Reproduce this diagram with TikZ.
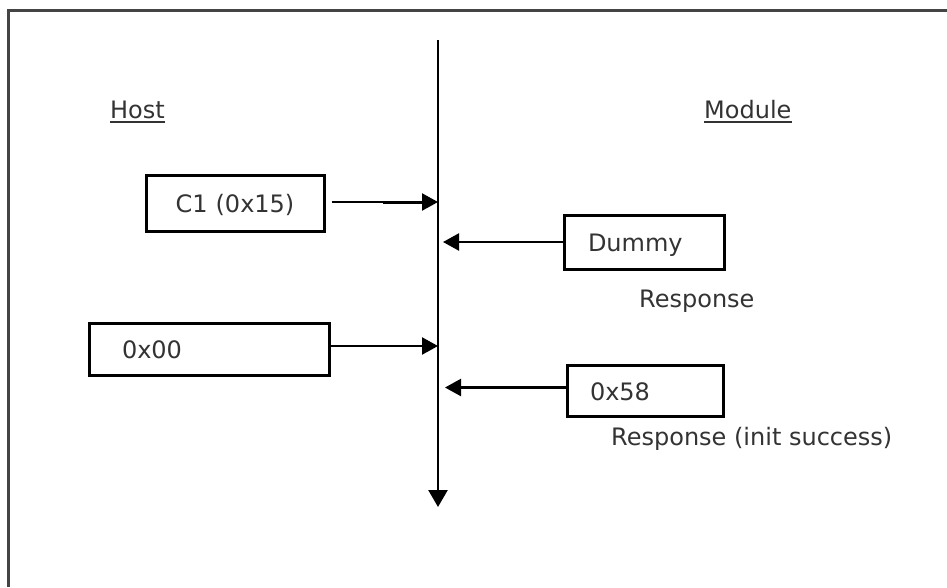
\documentclass[tikz,border=0pt]{standalone}
\usepackage{fontspec}
\setmainfont{DejaVu Sans}
\usetikzlibrary{arrows.meta}
\definecolor{ink}{HTML}{333333}
\definecolor{frame}{HTML}{444444}
\begin{document}
\begin{tikzpicture}[x=1pt,y=-1pt,
  every node/.style={font=\fontsize{24}{28}\selectfont, text=ink},
  msgbox/.style={draw=black, line width=3pt, text height=22pt, text depth=3pt,
    inner ysep=0pt, minimum height=#1},
  lbl/.style={inner sep=0pt, anchor=base west},
  flow/.style={line width=2.3pt, -{Triangle[length=16pt,width=17pt]}},
  axisline/.style={line width=2.5pt, -{Triangle[length=17pt,width=19pt]}},
  uline/.style={line width=1.8pt, ink}]
  \fill[white] (0,0) rectangle (947,587);
  \useasboundingbox (0,0) rectangle (947,587);

  % outer frame: top and left edges only
  \draw[line width=3pt, frame] (947,10) -- (8,10) -- (8,587);

  % time axis between host and module
  \coordinate (top) at (438,40);
  \coordinate (bot) at (438,507);
  \draw[axisline] (top) -- (bot);

  % column headings
  \node[lbl] (host) at (110,118) {Host};
  \node[lbl] (module) at (704,118) {Module};
  \draw[uline] ([yshift=-4pt]host.base west) -- ([yshift=-4pt]host.base east);
  \draw[uline] ([yshift=-4pt]module.base west) -- ([yshift=-4pt]module.base east);

  % host side messages
  \node[msgbox=56pt, minimum width=178pt, inner xsep=6pt, text width=166pt, align=center]
    (c1) at (235,203) {C1 (0x15)};
  \node[msgbox=52pt, inner xsep=33pt, text width=174pt, align=left]
    (zero) at (209,349) {0x00};

  % module side messages
  \node[msgbox=54pt, inner xsep=24pt, text width=112pt, align=left]
    (dummy) at (644,242) {Dummy};
  \node[lbl] (resp1) at (639,307) {Response};
  \node[msgbox=51pt, inner xsep=23pt, text width=110pt, align=left]
    (ok) at (645,390.5) {0x58};
  \node[lbl] (resp2) at (611,445) {Response (init success)};

  % messages towards the axis
  \draw[flow, shorten <=6pt] ([yshift=1pt]c1.east) -- ([yshift=1pt]c1.east -| top);
  \draw[line width=3pt] ([xshift=-55pt,yshift=1pt]c1.east -| top) -- ([xshift=-10pt,yshift=1pt]c1.east -| top);
  \draw[flow] (dummy.west) -- ([xshift=5pt]dummy.west -| top);
  \draw[flow] ([yshift=3pt]zero.east) -- ([yshift=3pt]zero.east -| top);
  \draw[flow] ([yshift=3pt]ok.west) -- ([xshift=7pt,yshift=3pt]ok.west -| top);
\end{tikzpicture}
\end{document}
